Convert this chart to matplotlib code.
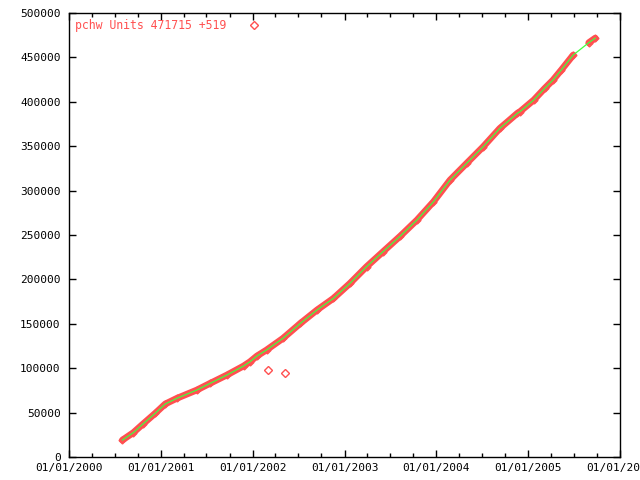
import matplotlib
matplotlib.use("Agg")
import matplotlib.pyplot as plt
import matplotlib.dates as mdates
from matplotlib.lines import Line2D
import pandas as pd

# values (fractional year -> units)
years = [2000.581, 2000.70, 2000.80, 2000.937, 2001.046, 2001.173, 2001.39, 2001.536,
         2001.718, 2001.90, 2001.97, 2002.045, 2002.15, 2002.33, 2002.52, 2002.70,
         2002.88, 2003.06, 2003.24, 2003.42, 2003.61, 2003.79, 2003.97, 2004.15,
         2004.33, 2004.51, 2004.69, 2004.88, 2004.91, 2005.06, 2005.18, 2005.27,
         2005.36, 2005.49, 2005.66, 2005.73]
units = [19100, 27500, 36800, 49200, 59700, 66100, 75400, 83000,
         92300, 102500, 107300, 113700, 120500, 133700, 150600, 165500,
         178700, 195600, 214300, 231200, 249000, 266900, 287500, 311900,
         330700, 349400, 370000, 386900, 388900, 402000, 415200, 424500,
         435800, 452700, 466600, 471715]
gap_after = 2005.49   # no samples between this date and the next one
outlier_years = [2002.165, 2002.353]
outlier_units = [97900, 94200]
legend_label = "pchw Units 471715 +519"
x_start, x_end = "2000-01-01", "2006-01-01"
y_max = 500000


def to_dates(ys):
    out = []
    for y in ys:
        yr = int(y)
        start = pd.Timestamp(year=yr, month=1, day=1)
        end = pd.Timestamp(year=yr + 1, month=1, day=1)
        out.append(start + (end - start) * (y - yr))
    return out


red = "#ff5050"
green = "#40ff40"

fig = plt.figure(figsize=(6.4, 4.8), dpi=100)
ax = fig.add_axes([69 / 640, 23 / 480, (620 - 69) / 640, (457 - 13) / 480])

d = to_dates(years)
k = years.index(gap_after) + 1
for seg_d, seg_u in ((d[:k], units[:k]), (d[k:], units[k:])):
    ax.plot(seg_d, seg_u, color=red, lw=4.8, solid_capstyle="round", zorder=2)
    ax.plot(seg_d, seg_u, ls="none", marker="D", ms=3.5, mfc="none", mec=red,
            mew=1.0, zorder=2)
ax.plot(to_dates(outlier_years), outlier_units, ls="none", marker="D", ms=4.0,
        mfc="none", mec=red, mew=1.0, zorder=2)
ax.plot(d, units, color=green, lw=0.9, zorder=3)

ax.set_xlim(pd.Timestamp(x_start), pd.Timestamp(x_end))
ax.set_ylim(0, y_max)

ax.xaxis.set_major_locator(mdates.YearLocator())
ax.xaxis.set_minor_locator(mdates.MonthLocator(bymonth=[4, 7, 10]))
ax.xaxis.set_major_formatter(mdates.DateFormatter("%m/%d/%Y"))
ax.yaxis.set_major_locator(plt.MultipleLocator(50000))

mono = "DejaVu Sans Mono"
ax.tick_params(axis="both", which="both", direction="in", top=True, right=True,
               labelsize=8, width=1.0)
ax.tick_params(which="major", length=5)
ax.tick_params(which="minor", length=3)
ax.tick_params(axis="x", pad=4)
ax.tick_params(axis="y", pad=6)
for lab in ax.get_xticklabels() + ax.get_yticklabels():
    lab.set_family(mono)
for sp in ax.spines.values():
    sp.set_linewidth(1.0)

h = Line2D([], [], ls="none", marker="D", ms=4.0, mfc="none", mec=red, mew=1.0)
ax.legend([h], [legend_label], loc="upper left", frameon=False, markerfirst=False,
          labelcolor=red, prop={"family": mono, "size": 8.3}, handlelength=1.5,
          handletextpad=1.7, borderaxespad=0.2, borderpad=0.3)

fig.savefig("out.png", dpi=100)
